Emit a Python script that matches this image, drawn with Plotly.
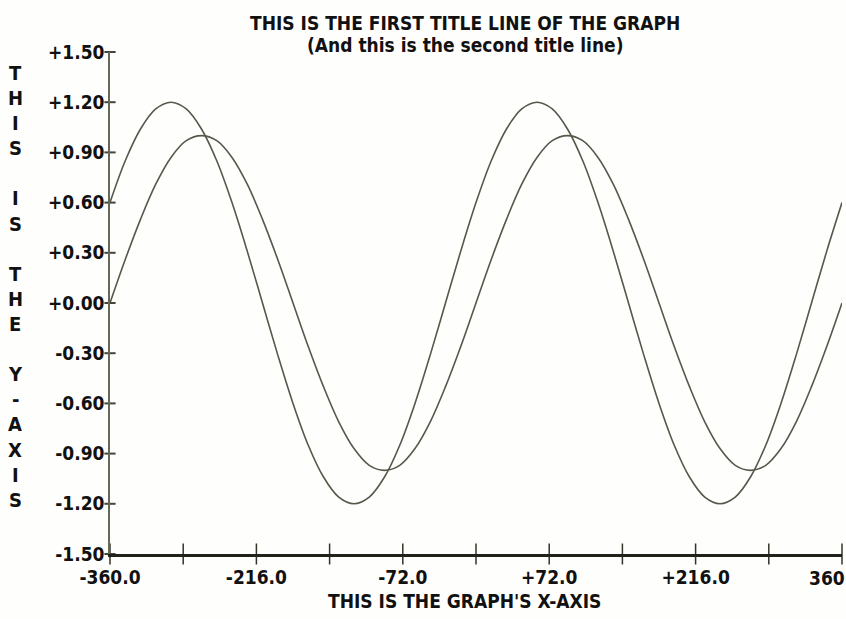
import plotly.graph_objects as go

# Angle samples (degrees) shared by both curves
angle_deg = [-360, -345, -330, -315, -300, -285, -270, -255, -240, -225, -210, -195,
             -180, -165, -150, -135, -120, -105, -90, -75, -60, -45, -30, -15,
             0, 15, 30, 45, 60, 75, 90, 105, 120, 135, 150, 165,
             180, 195, 210, 225, 240, 255, 270, 285, 300, 315, 330, 345, 360]

# Unit-amplitude wave
wave_a = [0.00, 0.26, 0.50, 0.71, 0.87, 0.97, 1.00, 0.97, 0.87, 0.71, 0.50, 0.26,
          0.00, -0.26, -0.50, -0.71, -0.87, -0.97, -1.00, -0.97, -0.87, -0.71, -0.50, -0.26,
          0.00, 0.26, 0.50, 0.71, 0.87, 0.97, 1.00, 0.97, 0.87, 0.71, 0.50, 0.26,
          0.00, -0.26, -0.50, -0.71, -0.87, -0.97, -1.00, -0.97, -0.87, -0.71, -0.50, -0.26, 0.00]

# Larger, phase-advanced wave
wave_b = [0.60, 0.85, 1.04, 1.16, 1.20, 1.16, 1.04, 0.85, 0.60, 0.31, 0.00, -0.31,
          -0.60, -0.85, -1.04, -1.16, -1.20, -1.16, -1.04, -0.85, -0.60, -0.31, 0.00, 0.31,
          0.60, 0.85, 1.04, 1.16, 1.20, 1.16, 1.04, 0.85, 0.60, 0.31, 0.00, -0.31,
          -0.60, -0.85, -1.04, -1.16, -1.20, -1.16, -1.04, -0.85, -0.60, -0.31, 0.00, 0.31, 0.60]

# Axis ticks and their labels
x_ticks = [-360, -288, -216, -144, -72, 0, 72, 144, 216, 288, 360]
x_tick_text = ["-360.0", "", "-216.0", "", "-72.0", "", "+72.0", "", "+216.0", "", ""]
x_end_label = "360"
y_ticks = [-1.5, -1.2, -0.9, -0.6, -0.3, 0.0, 0.3, 0.6, 0.9, 1.2, 1.5]
y_tick_text = ["-1.50", "-1.20", "-0.90", "-0.60", "-0.30", "+0.00",
               "+0.30", "+0.60", "+0.90", "+1.20", "+1.50"]

title_line_1 = "THIS IS THE FIRST TITLE LINE OF THE GRAPH"
title_line_2 = "(And this is the second title line)"
x_title = "THIS IS THE GRAPH'S X-AXIS"
y_title = "THIS IS THE Y-AXIS"

FONT = "DejaVu Sans Condensed, DejaVu Sans, sans-serif"
INK = "#111111"
CURVE = "#55584a"

W, H = 846, 619
M_L, M_R, M_T, M_B = 110, 4, 52, 65
PLOT_H = H - M_T - M_B

fig = go.Figure()

for series in (wave_a, wave_b):
    fig.add_trace(go.Scatter(
        x=angle_deg, y=series, mode="lines",
        line=dict(color=CURVE, width=1.6, shape="spline", smoothing=1.0),
        hoverinfo="skip", showlegend=False,
    ))

# Tick marks crossing the axes
fig.add_trace(go.Scatter(
    x=x_ticks, y=[y_ticks[0]] * len(x_ticks), mode="markers",
    marker=dict(symbol="line-ns", size=15, line=dict(color="#333329", width=1.5)),
    cliponaxis=False, hoverinfo="skip", showlegend=False,
))
fig.add_trace(go.Scatter(
    x=[x_ticks[0]] * len(y_ticks), y=y_ticks, mode="markers",
    marker=dict(symbol="line-ew", size=8, line=dict(color="#44463a", width=2)),
    cliponaxis=False, hoverinfo="skip", showlegend=False,
))

label_font = dict(family=FONT, size=19, color=INK, weight="bold")

fig.update_xaxes(
    range=[x_ticks[0], x_ticks[-1]], tickmode="array", tickvals=x_ticks, ticktext=x_tick_text,
    showgrid=False, zeroline=False, showline=True, linewidth=3, linecolor="#22221b",
    ticks="", tickfont=label_font, ticklabelstandoff=4, automargin=False,
)
fig.update_yaxes(
    range=[y_ticks[0], y_ticks[-1]], tickmode="array", tickvals=y_ticks, ticktext=y_tick_text,
    showgrid=False, zeroline=False, showline=True, linewidth=1.5, linecolor="#66685a",
    ticks="", tickfont=label_font, ticklabelstandoff=0, automargin=False,
)

def py(pixel_y):
    """Convert a page y pixel to paper coordinates."""
    return (H - M_B - pixel_y) / PLOT_H

def px(pixel_x):
    return (pixel_x - M_L) / (W - M_L - M_R)

annotations = [
    dict(text=title_line_1, x=px(465), y=py(23), xref="paper", yref="paper",
         showarrow=False, font=label_font, xanchor="center", yanchor="middle"),
    dict(text=title_line_2, x=px(465), y=py(45), xref="paper", yref="paper",
         showarrow=False, font=label_font, xanchor="center", yanchor="middle"),
    dict(text=x_title, x=px(464), y=py(601), xref="paper", yref="paper",
         showarrow=False, font=label_font, xanchor="center", yanchor="middle"),
    dict(text=x_end_label, x=x_ticks[-1], y=py(578), xref="x", yref="paper",
         showarrow=False, font=label_font, xanchor="right", yanchor="middle", xshift=5),
]

# Vertical, one-letter-per-line y-axis caption
for i, ch in enumerate(y_title):
    if ch == " ":
        continue
    annotations.append(dict(
        text=ch, x=px(15), y=py(73 + 25.1 * i), xref="paper", yref="paper",
        showarrow=False, font=dict(family=FONT, size=20, color=INK, weight="bold"),
        xanchor="center", yanchor="middle",
    ))

fig.update_layout(
    width=W, height=H,
    margin=dict(l=M_L, r=M_R, t=M_T, b=M_B),
    paper_bgcolor="#fefefc", plot_bgcolor="#fefefc",
    annotations=annotations, showlegend=False,
)

fig.write_html("out.html")
